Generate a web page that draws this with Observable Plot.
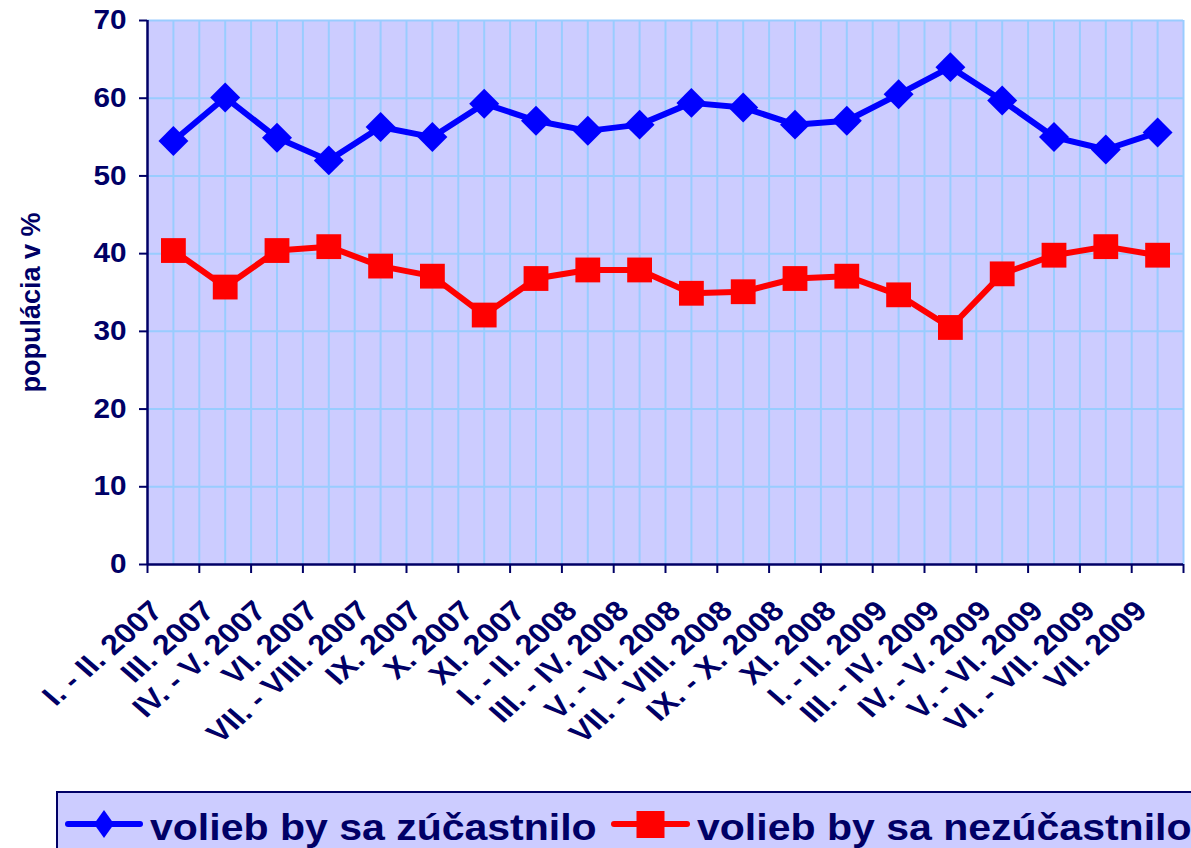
<!DOCTYPE html>
<html><head><meta charset="utf-8">
<script src="https://cdn.jsdelivr.net/npm/d3@7"></script>
<script src="https://cdn.jsdelivr.net/npm/@observablehq/plot@0.6"></script>
<style>
body{margin:0;background:#fff;font-family:"Liberation Sans",Arial,sans-serif;}
#wrap{position:relative;width:1191px;height:848px;overflow:hidden;}
#legend{position:absolute;left:0;top:790px;}
</style></head><body><div id="wrap"><div id="chart"></div><svg id="legend" width="1191" height="58"></svg></div>
<script>
const categories = ["I. - II. 2007","III. 2007","IV. - V. 2007","VI. 2007","VII. - VIII. 2007","IX. 2007","X. 2007","XI. 2007","I. - II. 2008","III. - IV. 2008","V. - VI. 2008","VII. - VIII. 2008","IX. - X. 2008","XI. 2008","I. - II. 2009","III. - IV. 2009","IV. - V. 2009","V. - VI. 2009","VI. - VII. 2009","VII. 2009"];
const turnout   = [54.5, 60.1, 54.9, 52.0, 56.3, 55.0, 59.3, 57.1, 55.8, 56.6, 59.4, 58.8, 56.6, 57.1, 60.5, 64.0, 59.7, 55.0, 53.4, 55.6];
const noTurnout = [40.4, 35.7, 40.4, 40.9, 38.4, 37.1, 32.1, 36.8, 37.9, 37.9, 34.9, 35.1, 36.8, 37.1, 34.7, 30.5, 37.4, 39.8, 40.9, 39.8];
const yTicks = [0, 10, 20, 30, 40, 50, 60, 70];
const yLabel = "populácia v %";
const seriesNames = ["volieb by sa zúčastnilo", "volieb by sa nezúčastnilo"];
const seriesColors = ["#0000FF", "#FF0000"];

const navy = "#000066";
const gridColor = "#99CCFF";
const rows = categories.flatMap((c, i) => [
  {cat: c, i, series: seriesNames[0], value: turnout[i]},
  {cat: c, i, series: seriesNames[1], value: noTurnout[i]}
]);

const chart = Plot.plot({
  width: 1191, height: 760,
  marginLeft: 147, marginRight: 8, marginTop: 20, marginBottom: 196,
  x: {type: "linear", domain: [0, categories.length], axis: null},
  y: {domain: [0, 70], axis: null},
  color: {domain: seriesNames, range: seriesColors},
  style: {fontFamily: "Liberation Sans, Arial, sans-serif", background: "transparent", overflow: "visible"},
  marks: [
    Plot.frame({fill: "#CCCCFF", stroke: null}),
    Plot.ruleY(yTicks.filter(d => d > 0), {stroke: gridColor, strokeWidth: 2}),
    Plot.ruleX(categories.flatMap((c, i) => [i + 0.5, i + 1]), {stroke: gridColor, strokeWidth: 2}),
    Plot.ruleY([0], {stroke: navy, strokeWidth: 2.5}),
    Plot.ruleX([0], {stroke: navy, strokeWidth: 2.5}),
    Plot.axisX({ticks: d3.range(0, categories.length + 1), tickSize: 9, tickFormat: () => "", stroke: navy, strokeWidth: 2, label: null}),
    Plot.axisY({ticks: yTicks, tickSize: 8, tickPadding: 13, stroke: navy, strokeWidth: 2, fill: navy, fontSize: 27, fontWeight: "bold", label: null}),
    Plot.text(categories, {x: (d, i) => i + 0.5, y: () => 0, text: d => d, rotate: -45, textAnchor: "end", lineAnchor: "bottom", dx: -9, dy: 48, fill: navy, fontSize: 28, fontWeight: "bold", ariaDescription: "xlabels"}),
    Plot.text([yLabel], {frameAnchor: "left", dx: -116, dy: 10, rotate: -90, lineAnchor: "middle", textAnchor: "middle", fill: navy, fontSize: 27, fontWeight: "bold"}),
    Plot.line(rows, {x: d => d.i + 0.5, y: "value", z: "series", stroke: "series", strokeWidth: 6}),
    Plot.dot(rows.filter(d => d.series === seriesNames[0]), {x: d => d.i + 0.5, y: "value", fill: "series", symbol: "diamond2", r: 13.5, stroke: null}),
    Plot.dot(rows.filter(d => d.series === seriesNames[1]), {x: d => d.i + 0.5, y: "value", fill: "series", symbol: "square", r: 14, stroke: null})
  ]
});

// horizontal text stretch as in the reference
function stretchTexts(selector, k) {
  chart.querySelectorAll(selector).forEach(t => {
    const tr = t.getAttribute("transform") || "";
    const m = tr.match(/^\s*(translate\([^)]*\))(.*)$/);
    if (m) {
      t.setAttribute("transform", `${m[1]} scale(${k},1)${m[2]}`);
    } else {
      const x = +(t.getAttribute("x") || 0), y = +(t.getAttribute("y") || 0);
      t.removeAttribute("x"); t.removeAttribute("y");
      t.setAttribute("transform", `translate(${x},${y}) scale(${k},1) ${tr}`);
    }
  });
}
stretchTexts('g[aria-label="y-axis tick label"] text', 1.1);
stretchTexts('g[aria-description="xlabels"] text', 1.15);
document.getElementById("chart").appendChild(chart);

// legend
const lg = d3.select("#legend");
lg.append("rect").attr("x", 57).attr("y", 2).attr("width", 1200).attr("height", 80)
  .attr("fill", "#CCCCFF").attr("stroke", navy).attr("stroke-width", 2);
const items = [
  {x0: 68, x1: 140, tx: 150, shape: "diamond"},
  {x0: 614, x1: 687, tx: 697, shape: "square"}
];
items.forEach((it, k) => {
  const c = seriesColors[k], cy = 34, cx = (it.x0 + it.x1) / 2;
  lg.append("line").attr("x1", it.x0).attr("x2", it.x1).attr("y1", cy).attr("y2", cy)
    .attr("stroke", c).attr("stroke-width", 6).attr("stroke-linecap", "round");
  if (it.shape === "diamond") {
    lg.append("path").attr("d", `M${cx},${cy-14}L${cx+10},${cy}L${cx},${cy+14}L${cx-10},${cy}Z`).attr("fill", c);
  } else {
    lg.append("rect").attr("x", cx - 14).attr("y", cy - 13).attr("width", 28).attr("height", 27).attr("fill", c);
  }
  lg.append("text").attr("transform", `translate(${it.tx},50) scale(1.1,1)`)
    .attr("fill", navy).attr("font-size", 37.3).attr("font-weight", "bold")
    .attr("font-family", "Liberation Sans, Arial, sans-serif").text(seriesNames[k]);
});
</script></body></html>
